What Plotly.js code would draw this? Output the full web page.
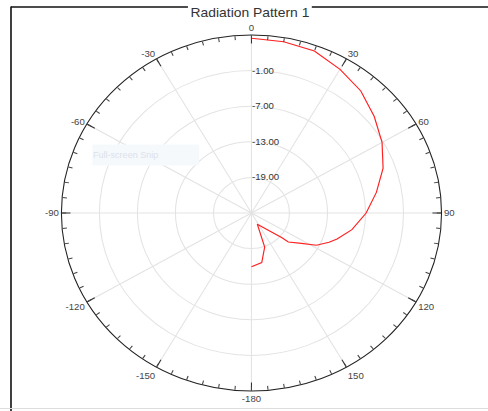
<!DOCTYPE html>
<html>
<head>
<meta charset="utf-8">
<script src="https://cdn.plot.ly/plotly-3.0.1.min.js"></script>
<style>
html, body { margin: 0; padding: 0; background: #fff; overflow: hidden; width: 488px; height: 411px; }
#chart { width: 457px; height: 411px; transform: scaleX(1.0678); transform-origin: 0 0; }
</style>
</head>
<body>
<div id="chart"></div>
<script>
// Data (angle in degrees, level in dB)
const thetaDeg = [0, 10, 20, 30, 40, 50, 60, 70, 80, 90, 100, 108, 112, 118, 123, 130, 131, 154, 160, 169, 180];
const levelDb = [4.45, 4.31, 4.04, 2.96, 1.85, 0.30, -1.20, -2.89, -4.98, -6.9, -8.9, -10.8, -11.8, -13.4, -15.6, -17.4, -18.7, -22.9, -18.9, -16.5, -15.95];

const angTickVals = [0, 30, 60, 90, 120, 150, 180, 210, 240, 270, 300, 330];
const angTickText = ['0', '30', '60', '90', '120', '150', '-180', '-150', '-120', '-90', '-60', '-30'];
const radTickVals = [-19, -13, -7, -1];
const radTickText = ['-19.00', '-13.00', '-7.00', '-1.00'];
const titleText = 'Radiation Pattern 1';
const snipText = 'Full-screen Snip';

const W = 457, H = 411;
const cx = 235.5, cy = 213, R = 178;
const dom = {
  x: [(cx - R) / W, (cx + R) / W],
  y: [(H - cy - R) / H, (H - cy + R) / H]
};
const font = 'Liberation Sans, Arial, sans-serif';

const trace = {
  type: 'scatterpolar',
  mode: 'lines',
  theta: thetaDeg,
  r: levelDb,
  subplot: 'polar',
  line: { color: '#ff2020', width: 1.1 },
  hoverinfo: 'skip',
  showlegend: false
};
// empty trace so the overlaid minor-tick polar subplot is drawn
const tickHolder = {
  type: 'scatterpolar',
  mode: 'lines',
  theta: [],
  r: [],
  subplot: 'polar2',
  hoverinfo: 'skip',
  showlegend: false
};

const px = v => v / W;
const py = v => 1 - v / H;

const layout = {
  width: W,
  height: H,
  margin: { l: 0, r: 0, t: 0, b: 0, pad: 0 },
  paper_bgcolor: '#ffffff',
  showlegend: false,
  title: {
    text: titleText,
    font: { family: font, size: 13, color: '#333333' },
    x: 234.1 / W, xref: 'paper', xanchor: 'center',
    y: 1 - 12.5 / H, yref: 'container', yanchor: 'middle'
  },
  polar: {
    domain: dom,
    bgcolor: '#ffffff',
    angularaxis: {
      direction: 'clockwise',
      rotation: 90,
      tickmode: 'array',
      tickvals: angTickVals,
      ticktext: angTickText,
      ticks: 'inside',
      ticklen: 8,
      tickwidth: 1,
      tickcolor: '#333333',
      showline: true,
      linecolor: '#222222',
      linewidth: 1,
      showgrid: true,
      gridcolor: '#e3e3e3',
      gridwidth: 1,
      tickfont: { family: font, size: 9, color: '#444444' }
    },
    radialaxis: {
      range: [-25, 5],
      angle: 90,
      tickangle: 90,
      tickmode: 'array',
      tickvals: radTickVals,
      ticktext: radTickText,
      showline: false,
      ticks: '',
      showgrid: true,
      gridcolor: '#e3e3e3',
      gridwidth: 1,
      tickfont: { family: font, size: 9, color: '#333333' }
    }
  },
  polar2: {
    domain: dom,
    bgcolor: 'rgba(0,0,0,0)',
    angularaxis: {
      direction: 'clockwise',
      rotation: 90,
      tickmode: 'linear',
      tick0: 0,
      dtick: 5,
      ticks: 'inside',
      ticklen: 4,
      tickwidth: 1,
      tickcolor: '#444444',
      showticklabels: false,
      showline: false,
      showgrid: false
    },
    radialaxis: {
      range: [-25, 5],
      visible: false
    }
  },
  shapes: [
    { type: 'line', xref: 'paper', yref: 'paper', x0: px(10.3), x1: px(10.3), y0: py(6.5), y1: py(411), line: { color: '#111111', width: 1.5 } },
    { type: 'line', xref: 'paper', yref: 'paper', x0: px(10.3), x1: px(176), y0: py(7), y1: py(7), line: { color: '#111111', width: 1.5 } },
    { type: 'line', xref: 'paper', yref: 'paper', x0: px(292), x1: px(457), y0: py(7), y1: py(7), line: { color: '#111111', width: 1.5 } },
    { type: 'line', xref: 'paper', yref: 'paper', x0: 0, x1: 1, y0: py(408.5), y1: py(408.5), line: { color: '#dddddd', width: 1 } }
  ],
  annotations: [
    {
      text: snipText,
      xref: 'paper', yref: 'paper',
      x: px(85.9), xanchor: 'left',
      y: py(155.5), yanchor: 'middle',
      width: 99, height: 20, align: 'left',
      bgcolor: '#f6f9fc',
      borderpad: 0,
      showarrow: false,
      font: { family: font, size: 8.5, color: '#dbe2ea' }
    }
  ]
};

Plotly.newPlot('chart', [trace, tickHolder], layout, { displayModeBar: false, staticPlot: true });
</script>
</body>
</html>
